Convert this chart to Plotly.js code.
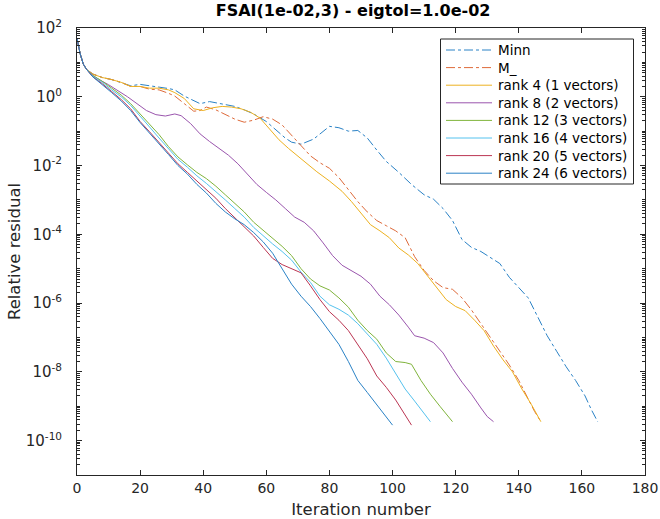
<!DOCTYPE html>
<html>
<head>
<meta charset="utf-8">
<script src="https://cdn.plot.ly/plotly-3.0.1.min.js"></script>
<style>html,body{margin:0;padding:0;background:#fff;}#chart{width:660px;height:519px;}</style>
</head>
<body>
<div id="chart"></div>
<script>
// Series names
const seriesNames = ["Minn", "M_", "rank 4 (1 vectors)", "rank 8 (2 vectors)", "rank 12 (3 vectors)", "rank 16 (4 vectors)", "rank 20 (5 vectors)", "rank 24 (6 vectors)"];

// Iteration numbers and log10(relative residual)
const minnX = [0,1,2,3,5,8,11,14,17,20,23,26,29,31,34,37,39,42,45,48,50,53,56,60,63,66,68,71,75,78,80,83,86,89,92,95,98,102,106,110,113,116,119,122,125,128,131,134,137,140,143,146,149,152,155,158,161,163,165];
const minnLog = [1.7,1.25,0.95,0.8,0.66,0.56,0.5,0.42,0.32,0.36,0.33,0.28,0.24,0.2,0.02,-0.12,-0.2,-0.14,-0.2,-0.25,-0.28,-0.38,-0.5,-0.72,-0.95,-1.2,-1.32,-1.38,-1.23,-1.0,-0.86,-0.9,-1.0,-0.98,-1.2,-1.55,-1.88,-2.2,-2.55,-2.85,-2.98,-3.25,-3.6,-4.15,-4.38,-4.5,-4.68,-4.85,-5.25,-5.55,-5.85,-6.4,-6.95,-7.4,-7.85,-8.25,-8.7,-9.1,-9.45];

const mX = [0,1,2,3,5,8,11,14,17,20,23,26,29,31,34,37,39,41,44,47,50,53,56,59,62,65,68,71,74,77,80,83,86,89,92,95,98,101,104,107,110,113,116,119,122,125,128,131,134,137,140,143,145,147];
const mLog = [1.7,1.25,0.95,0.8,0.66,0.56,0.5,0.42,0.3,0.3,0.22,0.2,0.1,0.02,-0.2,-0.42,-0.4,-0.3,-0.38,-0.52,-0.65,-0.74,-0.68,-0.58,-0.65,-0.82,-1.12,-1.42,-1.72,-1.92,-2.08,-2.35,-2.7,-3.05,-3.35,-3.6,-3.75,-3.9,-4.1,-4.65,-5.05,-5.35,-5.55,-5.6,-5.85,-6.2,-6.6,-7.0,-7.42,-7.8,-8.25,-8.8,-9.15,-9.45];

const r4X = [0,1,2,3,5,8,11,14,17,20,23,26,29,31,34,37,40,43,46,49,52,55,58,61,64,67,70,73,76,80,84,87,90,93,96,99,102,105,108,111,114,117,120,123,126,129,132,135,138,141,144,147];
const r4Log = [1.7,1.25,0.95,0.8,0.66,0.56,0.5,0.42,0.3,0.3,0.25,0.25,0.2,0.12,-0.05,-0.35,-0.4,-0.32,-0.28,-0.3,-0.35,-0.45,-0.62,-0.95,-1.25,-1.5,-1.73,-1.95,-2.18,-2.45,-2.75,-3.05,-3.38,-3.72,-3.9,-4.1,-4.4,-4.6,-4.85,-5.2,-5.55,-5.9,-6.1,-6.22,-6.5,-6.8,-7.25,-7.65,-8.0,-8.5,-8.95,-9.45];

const r8X = [0,1,2,3,5,7,10,13,16,19,22,25,28,31,33,36,39,42,45,48,51,54,57,60,63,66,69,72,75,78,81,84,87,90,93,96,99,102,105,107,110,113,116,119,122,125,128,130,132];
const r8Log = [1.7,1.25,0.95,0.8,0.62,0.5,0.35,0.18,0.0,-0.2,-0.4,-0.52,-0.56,-0.5,-0.55,-0.78,-1.08,-1.3,-1.5,-1.7,-1.95,-2.25,-2.55,-2.78,-3.0,-3.25,-3.5,-3.65,-3.9,-4.25,-4.62,-4.9,-5.05,-5.22,-5.45,-5.8,-6.05,-6.35,-6.7,-6.95,-7.02,-7.15,-7.45,-7.9,-8.3,-8.65,-9.05,-9.3,-9.45];

const r12X = [0,1,2,3,5,8,11,14,17,20,23,26,29,32,35,38,41,44,47,50,53,56,59,62,65,68,71,74,77,80,83,86,89,92,95,98,101,104,106,109,112,115,119];
const r12Log = [1.7,1.25,0.95,0.8,0.62,0.45,0.25,0.05,-0.2,-0.5,-0.8,-1.1,-1.45,-1.75,-1.98,-2.2,-2.38,-2.6,-2.85,-3.1,-3.35,-3.65,-3.88,-4.1,-4.35,-4.62,-5.0,-5.3,-5.5,-5.62,-5.85,-6.12,-6.5,-6.8,-7.05,-7.45,-7.7,-7.73,-7.78,-8.25,-8.65,-9.0,-9.45];

const r16X = [0,1,2,3,5,8,11,14,17,20,23,26,29,32,35,38,41,44,47,50,53,56,59,62,65,68,71,74,77,80,83,86,89,92,95,98,101,104,107,110,112];
const r16Log = [1.7,1.25,0.95,0.8,0.6,0.42,0.2,0.0,-0.25,-0.58,-0.88,-1.2,-1.52,-1.82,-2.05,-2.3,-2.52,-2.75,-3.0,-3.25,-3.5,-3.8,-4.05,-4.28,-4.5,-4.75,-5.1,-5.4,-5.8,-6.05,-6.18,-6.35,-6.6,-6.9,-7.2,-7.6,-8.05,-8.5,-8.85,-9.2,-9.45];

const r20X = [0,1,2,3,5,8,11,14,17,20,23,26,29,32,35,38,41,44,47,50,53,56,59,62,65,68,71,74,77,80,83,86,89,92,95,98,101,104,106];
const r20Log = [1.7,1.25,0.95,0.8,0.58,0.38,0.15,-0.08,-0.35,-0.72,-1.02,-1.32,-1.65,-1.95,-2.2,-2.45,-2.72,-2.95,-3.25,-3.52,-3.78,-4.05,-4.38,-4.7,-4.88,-5.0,-5.12,-5.5,-5.9,-6.25,-6.5,-6.8,-7.2,-7.62,-8.12,-8.45,-8.82,-9.25,-9.55];

const r24X = [0,1,2,3,5,8,11,14,17,20,23,26,29,32,35,38,41,44,47,50,53,56,59,62,65,68,71,74,77,80,83,86,89,92,95,98,100];
const r24Log = [1.7,1.25,0.95,0.8,0.58,0.36,0.12,-0.12,-0.4,-0.75,-1.05,-1.35,-1.68,-2.0,-2.25,-2.55,-2.8,-3.1,-3.35,-3.55,-3.72,-3.95,-4.22,-4.55,-5.0,-5.45,-5.8,-6.1,-6.45,-6.82,-7.2,-7.7,-8.25,-8.6,-8.95,-9.3,-9.55];

// Tick labels
const xTickVals = [0,20,40,60,80,100,120,140,160,180];
const yTickExps = [-10,-8,-6,-4,-2,0,2];

const seriesX = [minnX, mX, r4X, r8X, r12X, r16X, r20X, r24X];
const seriesLog = [minnLog, mLog, r4Log, r8Log, r12Log, r16Log, r20Log, r24Log];
const colors = ["#2a82c6", "#de6a3a", "#EDB120", "#9a55ad", "#80b43c", "#55c2ee", "#bb3552", "#2a82c6"];
const dashes = ["dashdot", "dashdot", "solid", "solid", "solid", "solid", "solid", "solid"];

const traces = seriesNames.map((name, i) => ({
  x: seriesX[i],
  y: seriesLog[i].map(v => Math.pow(10, v)),
  type: "scatter",
  mode: "lines",
  name: name,
  showlegend: false,
  line: {color: colors[i], width: 1, dash: dashes[i]}
}));

// Plot-area geometry (px) for a drawn legend box
const W = 660, H = 519, mL = 77, mR = 15, mT = 28, mB = 44;
const pw = W - mL - mR, ph = H - mT - mB;
const px2x = p => (p - mL) / pw;
const py2y = p => (H - mB - p) / ph;
const legBox = {x0: 440.5, x1: 633.5, y0: 39, y1: 184};
const legFirstY = 50, legStep = 17.6, legLineX0 = 446, legLineX1 = 492, legTextX = 496;

const shapes = [{
  type: "rect", xref: "paper", yref: "paper",
  x0: px2x(legBox.x0), x1: px2x(legBox.x1), y0: py2y(legBox.y1), y1: py2y(legBox.y0),
  line: {color: "#262626", width: 1}, fillcolor: "#ffffff", layer: "above"
}];
const annotations = [];
seriesNames.forEach((name, i) => {
  const yc = legFirstY + i * legStep;
  shapes.push({
    type: "line", xref: "paper", yref: "paper",
    x0: px2x(legLineX0), x1: px2x(legLineX1), y0: py2y(yc), y1: py2y(yc),
    line: {color: colors[i], width: 1, dash: dashes[i]}, layer: "above"
  });
  annotations.push({
    xref: "paper", yref: "paper", x: px2x(legTextX), y: py2y(yc),
    xanchor: "left", yanchor: "middle", showarrow: false, text: name,
    font: {family: "DejaVu Sans", size: 13.5, color: "#000"}
  });
});

const axisCommon = {
  showline: true, linecolor: "#262626", linewidth: 1, mirror: "ticks",
  ticks: "inside", ticklen: 5, tickcolor: "#262626", showgrid: false, zeroline: false,
  tickfont: {family: "DejaVu Sans", size: 14, color: "#262626"}
};

const layout = {
  width: W, height: H,
  margin: {l: mL, r: mR, t: mT, b: mB},
  paper_bgcolor: "#fff", plot_bgcolor: "#fff",
  font: {family: "DejaVu Sans", color: "#262626"},
  title: {text: "<b>FSAI(1e-02,3) - eigtol=1.0e-02</b>", font: {family: "DejaVu Sans", size: 16, color: "#000"}, x: 0.535, xanchor: "center", y: 0.99, yanchor: "top"},
  xaxis: Object.assign({}, axisCommon, {
    range: [0, 180], tickmode: "array", tickvals: xTickVals, ticktext: xTickVals.map(String),
    title: {text: "Iteration number", font: {family: "DejaVu Sans", size: 16.5, color: "#262626"}, standoff: 8}
  }),
  yaxis: Object.assign({}, axisCommon, {
    type: "log", range: [-11, 2], tickmode: "array",
    tickvals: yTickExps.map(e => Math.pow(10, e)),
    ticktext: yTickExps.map(e => "10<sup>" + e + "</sup>"),
    tickfont: {family: "DejaVu Sans", size: 15, color: "#262626"},
    ticklabelstandoff: 11,
    minor: {ticks: "inside", ticklen: 3, tickcolor: "#262626", dtick: "D1", showgrid: false},
    title: {text: "Relative residual", font: {family: "DejaVu Sans", size: 16.5, color: "#262626"}, standoff: 0}
  }),
  shapes: shapes,
  annotations: annotations,
  showlegend: false
};

Plotly.newPlot("chart", traces, layout, {displayModeBar: false, staticPlot: true});
</script>
</body>
</html>
